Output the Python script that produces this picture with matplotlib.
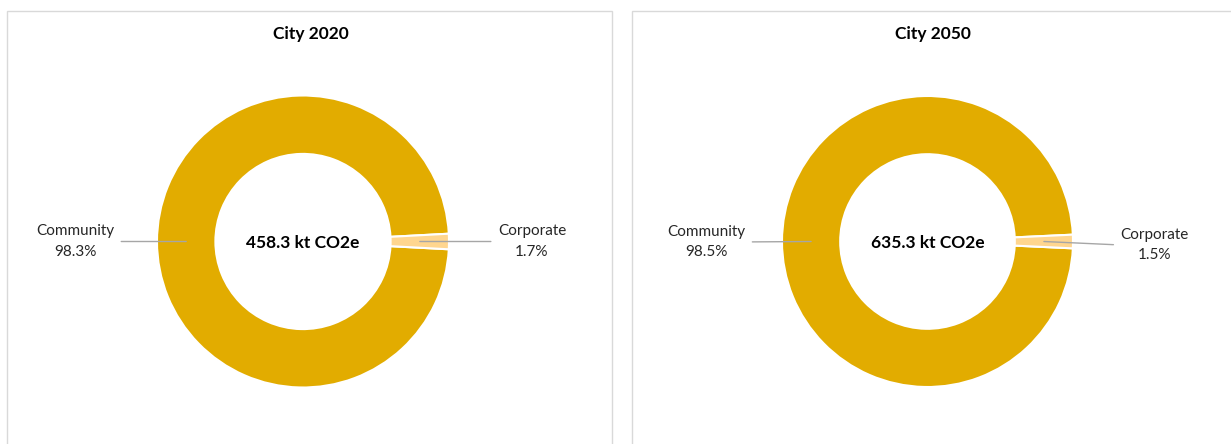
import matplotlib
matplotlib.use("Agg")
import numpy as np
import matplotlib.pyplot as plt
from matplotlib.patches import Rectangle

plt.rcParams['font.family'] = ['Lato', 'DejaVu Sans']

titles = ["City 2020", "City 2050"]
categories = ["Community", "Corporate"]
shares_2020 = [98.3, 1.7]
shares_2050 = [98.5, 1.5]
totals = ["458.3 kt CO2e", "635.3 kt CO2e"]
colors = ["#E2AC00", "#FFD68F"]

W, H = 1231, 444
fig = plt.figure(figsize=(W / 100, H / 100), dpi=100)

# panel frames (pixel coords)
frames = [(7, 11, 605, 460), (632, 11, 620, 460)]
for (x0, y0, w, h) in frames:
    fig.patches.append(Rectangle((x0 / W, 1 - (y0 + h) / H), w / W, h / H,
                                 transform=fig.transFigure, fill=False,
                                 edgecolor="#D9D9D9", linewidth=1.0, zorder=0))

centers = [(303, 241.5, 146), (927.5, 241.5, 145.5)]
title_x = [311, 933]
label_cfg = [
    [(-1.56, 0.0), (1.568, 0.0)],
    [(-1.52, -0.003), (1.56, -0.024)],
]

for i, (shares, title, total) in enumerate(zip([shares_2020, shares_2050], titles, totals)):
    cx, cy, r = centers[i]
    ax = fig.add_axes([(cx - r) / W, 1 - (cy + r) / H, 2 * r / W, 2 * r / H])
    start = -360 * shares[1] / 100 / 2
    wedges, _ = ax.pie(shares, colors=colors, startangle=start, counterclock=False,
                       radius=1, wedgeprops=dict(width=0.4, edgecolor="white", linewidth=1.5))
    ax.set_xlim(-1, 1)
    ax.set_ylim(-1, 1)
    ax.set_aspect("equal")
    ax.axis("off")
    for j, (wdg, cat, val) in enumerate(zip(wedges, categories, shares)):
        ang = np.deg2rad((wdg.theta1 + wdg.theta2) / 2)
        if j == 0:
            ang = np.pi
        xy = (0.8 * np.cos(ang), 0.8 * np.sin(ang))
        tx, ty = label_cfg[i][j]
        ax.annotate(f"{cat}\n{val:.1f}%", xy=xy, xytext=(tx, ty), textcoords="data",
                    ha="center", va="center", fontsize=11, color="#262626",
                    linespacing=1.55, annotation_clip=False,
                    arrowprops=dict(arrowstyle="-", color="#A6A6A6", lw=1,
                                    shrinkA=3, shrinkB=0,
                                    relpos=(1, 0.5) if j == 0 else (0, 0.5)))
    ax.text(0, -0.01, total, ha="center", va="center", fontsize=12.5,
            fontweight="bold", color="black")
    fig.text(title_x[i] / W, 1 - 34 / H, title, ha="center", va="center",
             fontsize=12.5, fontweight="bold", color="black")

fig.savefig("out.png", dpi=100)
